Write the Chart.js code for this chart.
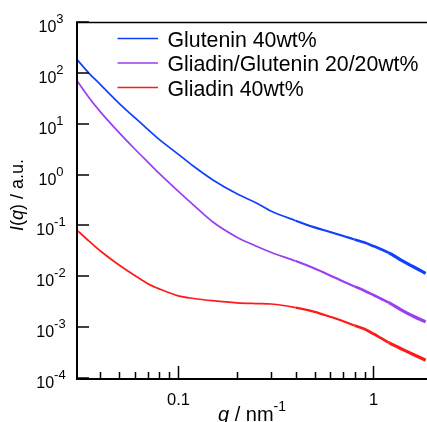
<!DOCTYPE html>
<html>
<head>
<meta charset="utf-8">
<script src="https://cdn.jsdelivr.net/npm/chart.js@4/dist/chart.umd.min.js"></script>
<style>
  html, body { margin: 0; padding: 0; background: #fff; overflow: hidden; }
  #wrap { width: 427px; height: 422px; position: relative; }
</style>
</head>
<body>
<div id="wrap"><canvas id="c" width="427" height="422"></canvas></div>
<script>
// Scattering vector q (nm^-1)
const q = [0.03, 0.035, 0.04, 0.05, 0.06, 0.07, 0.08, 0.1, 0.12, 0.15, 0.2, 0.25, 0.3,
           0.4, 0.5, 0.6, 0.7, 0.8, 0.9, 1.0, 1.1, 1.2, 1.4, 1.6, 1.85];

// Scattered intensity I(q), a.u.
const glutenin = [193, 98, 58.8, 24.9, 13.2, 7.7, 4.92, 2.52, 1.455, 0.793, 0.419, 0.280, 0.190,
                  0.124, 0.0915, 0.0743, 0.062, 0.0529, 0.046, 0.0392, 0.0336, 0.0289, 0.0204, 0.0154, 0.0114];
const mixture = [74.7, 32.5, 17.1, 6.6, 3.18, 1.76, 1.055, 0.473, 0.250, 0.118, 0.0587, 0.0394, 0.0294,
                 0.0199, 0.0142, 0.0104, 0.00794, 0.00633, 0.00521, 0.00429, 0.00358, 0.00303, 0.00214, 0.00164, 0.00127];
const gliadin = [0.0839, 0.0492, 0.0314, 0.0165, 0.0104, 0.00715, 0.00565, 0.00412, 0.00366, 0.00331, 0.00301, 0.00291, 0.00285,
                 0.00242, 0.0020, 0.0016, 0.00131, 0.00108, 0.000916, 0.00074, 0.000601, 0.000497, 0.000369, 0.000289, 0.000224];

const seriesNames = ['Glutenin 40wt%', 'Gliadin/Glutenin 20/20wt%', 'Gliadin 40wt%'];
const seriesColors = ['#1040ff', '#9a3ff0', '#ff1a1a'];

// Axis ticks
const yDecades = [-4, -3, -2, -1, 0, 1, 2, 3];
const xMajor = [0.1, 1];
const xMajorLabels = ['0.1', '1'];
const xMinor = [0.04, 0.05, 0.06, 0.07, 0.08, 0.09, 0.2, 0.3, 0.4, 0.5, 0.6, 0.7, 0.8, 0.9];

const FONT = '"Liberation Sans", Arial, Helvetica, sans-serif';

function pts(ys) { return q.map((v, i) => ({ x: v, y: ys[i] })); }

// counting statistics get poorer at high q, so the trace widens there
function segWidth(ctx) {
  const qx = ctx.p1.parsed.x;
  if (qx > 1.2) return 3.2;
  if (qx > 0.8) return 2.7;
  if (qx > 0.4) return 2.2;
  return 1.7;
}

const frame = {
  id: 'frame',
  afterDraw(chart) {
    const ctx = chart.ctx;
    const xs = chart.scales.x, ys = chart.scales.y;
    const a = chart.chartArea;
    ctx.save();
    ctx.strokeStyle = '#000';
    ctx.fillStyle = '#000';

    // frame lines
    ctx.lineWidth = 1.5;
    ctx.beginPath();
    ctx.moveTo(a.left, a.top + 0.5); ctx.lineTo(a.right, a.top + 0.5);
    ctx.stroke();
    ctx.lineWidth = 2;
    ctx.beginPath();
    ctx.moveTo(a.left + 1, a.top); ctx.lineTo(a.left + 1, a.bottom + 1);
    ctx.lineTo(a.right, a.bottom + 1);
    ctx.stroke();

    // y ticks (inward) and labels 10^n
    ctx.lineWidth = 1.5;
    yDecades.forEach(d => {
      const py = Math.round(ys.getPixelForValue(Math.pow(10, d)));
      ctx.beginPath();
      ctx.moveTo(a.left, py); ctx.lineTo(a.left + 13, py);
      ctx.stroke();
      const base = '10', sup = d < 0 ? '-' + (-d) : String(d);
      ctx.font = '16px ' + FONT;
      const wb = ctx.measureText(base).width;
      ctx.font = '13px ' + FONT;
      const ws = ctx.measureText(sup).width;
      const x0 = 51 - (wb + ws) / 2;
      ctx.textAlign = 'left';
      ctx.textBaseline = 'alphabetic';
      ctx.font = '16px ' + FONT;
      ctx.fillText(base, x0, py + 10);
      ctx.font = '13px ' + FONT;
      ctx.fillText(sup, x0 + wb, py + 0.5);
    });

    // x ticks (inward)
    xMajor.forEach((v, i) => {
      const px = Math.round(xs.getPixelForValue(v)) + 0.5;
      ctx.beginPath();
      ctx.moveTo(px, a.bottom); ctx.lineTo(px, a.bottom - 12);
      ctx.stroke();
      ctx.font = '16.5px ' + FONT;
      ctx.textAlign = 'center';
      ctx.fillText(xMajorLabels[i], px, 404.5);
    });
    xMinor.forEach(v => {
      const px = Math.round(xs.getPixelForValue(v)) + 0.5;
      ctx.beginPath();
      ctx.moveTo(px, a.bottom); ctx.lineTo(px, a.bottom - 6);
      ctx.stroke();
    });

    // x title: q / nm^-1
    ctx.textAlign = 'left';
    let tx = 218;
    ctx.font = 'italic 20px ' + FONT;
    ctx.fillText('q', tx, 421);
    tx += ctx.measureText('q').width;
    ctx.font = '20px ' + FONT;
    ctx.fillText(' / nm', tx, 421);
    tx += ctx.measureText(' / nm').width;
    ctx.font = '14px ' + FONT;
    ctx.fillText('-1', tx, 410.5);

    // y title: I(q) / a.u.
    ctx.save();
    ctx.translate(23, 195);
    ctx.rotate(-Math.PI / 2);
    const parts = [['I', true], ['(', false], ['q', true], [') / a.u.', false]];
    let total = 0;
    parts.forEach(p => { ctx.font = (p[1] ? 'italic ' : '') + '18px ' + FONT; total += ctx.measureText(p[0]).width; });
    let lx = -total / 2;
    parts.forEach(p => {
      ctx.font = (p[1] ? 'italic ' : '') + '18px ' + FONT;
      ctx.fillText(p[0], lx, 0);
      lx += ctx.measureText(p[0]).width;
    });
    ctx.restore();

    // legend
    const rows = [38.5, 63, 87.5];
    seriesNames.forEach((name, i) => {
      ctx.strokeStyle = seriesColors[i];
      ctx.lineWidth = 1.6;
      ctx.beginPath();
      ctx.moveTo(117.5, rows[i]); ctx.lineTo(158, rows[i]);
      ctx.stroke();
      ctx.fillStyle = '#000';
      ctx.font = '21.3px ' + FONT;
      ctx.textAlign = 'left';
      ctx.fillText(name, 167.5, rows[i] + 8);
    });
    ctx.restore();
  }
};

const datasets = [glutenin, mixture, gliadin].map((arr, i) => ({
  label: seriesNames[i],
  data: pts(arr),
  borderColor: seriesColors[i],
  backgroundColor: seriesColors[i],
  borderWidth: 1.7,
  segment: { borderWidth: segWidth },
  pointRadius: 0,
  fill: false,
  cubicInterpolationMode: 'monotone'
}));

new Chart(document.getElementById('c'), {
  type: 'line',
  data: { datasets },
  options: {
    responsive: false,
    devicePixelRatio: 1,
    animation: false,
    layout: { padding: { top: 22, right: 0, left: 0, bottom: 0 } },
    plugins: { legend: { display: false }, tooltip: { enabled: false } },
    scales: {
      x: {
        type: 'logarithmic',
        min: 0.03, max: 1.88,
        grid: { display: false }, border: { display: false },
        ticks: { display: false },
        afterFit(s) { s.height = 44; }
      },
      y: {
        type: 'logarithmic',
        min: 1e-4, max: 1e3,
        grid: { display: false }, border: { display: false },
        ticks: { display: false },
        afterFit(s) { s.width = 76; }
      }
    }
  },
  plugins: [frame]
});
</script>
</body>
</html>
